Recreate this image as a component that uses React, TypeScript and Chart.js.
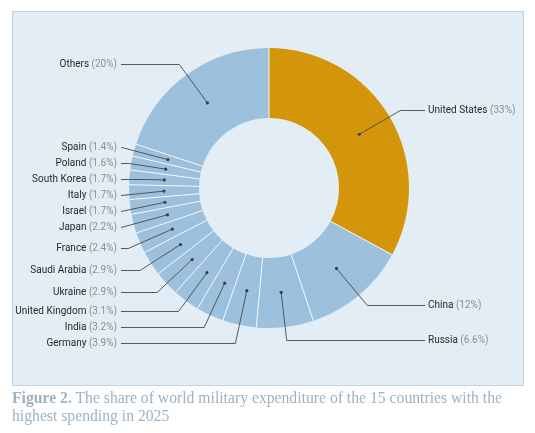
import React, { useEffect, useRef } from "react";
import { Chart, registerables } from "chart.js";

Chart.register(...registerables);

const countries = [
  "United States",
  "China",
  "Russia",
  "Germany",
  "India",
  "United Kingdom",
  "Ukraine",
  "Saudi Arabia",
  "France",
  "Japan",
  "Israel",
  "Italy",
  "South Korea",
  "Poland",
  "Spain",
  "Others",
];
const shares = [33, 12, 6.6, 3.9, 3.2, 3.1, 2.9, 2.9, 2.4, 2.2, 1.7, 1.7, 1.7, 1.6, 1.4, 20];
const highlighted = ["United States"];

const GOLD = "#d3960b";
const BLUE = "#9dc1dd";

const fmt = (v: number) => (Number.isInteger(v) ? `${v}%` : `${v.toFixed(1)}%`);

const labelPlugin = {
  id: "donutLabels",
  afterDatasetsDraw(chart: any) {
    const ctx = chart.ctx as CanvasRenderingContext2D;
    const meta = chart.getDatasetMeta(0);
    const arcs = meta.data as any[];
    if (!arcs.length) return;
    const first = arcs[0].getProps(["x", "y", "innerRadius", "outerRadius"], true);
    const cx = first.x;
    const cy = first.y;
    const ri = first.innerRadius;
    const ro = first.outerRadius;
    ctx.save();

    // separators between slices
    ctx.strokeStyle = "rgba(255,255,255,0.85)";
    ctx.lineWidth = 1;
    arcs.forEach((a) => {
      const p = a.getProps(["startAngle"], true);
      const ang = p.startAngle;
      ctx.beginPath();
      ctx.moveTo(cx + Math.cos(ang) * ri, cy + Math.sin(ang) * ri);
      ctx.lineTo(cx + Math.cos(ang) * ro, cy + Math.sin(ang) * ro);
      ctx.stroke();
    });

    const rDot = (ri + ro) / 2;
    const rLab = ro + 13;
    const GAP = 16;
    const leftTextX = cx - 152;
    const rightTextX = cx + 159;
    const leftLineX = leftTextX + 4;
    const rightLineX = rightTextX - 3;

    const items = arcs.map((a, i) => {
      const p = a.getProps(["startAngle", "endAngle"], true);
      const mid = (p.startAngle + p.endAngle) / 2;
      const dx = Math.cos(mid);
      const dy = Math.sin(mid);
      return {
        i,
        dx,
        dy,
        dotX: cx + dx * rDot,
        dotY: cy + dy * rDot,
        y: cy + dy * rLab,
        right: dx > 0,
      };
    });

    [true, false].forEach((side) => {
      const group = items.filter((it) => it.right === side).sort((a, b) => a.y - b.y);
      for (let k = 1; k < group.length; k++) {
        if (group[k].y < group[k - 1].y + GAP) group[k].y = group[k - 1].y + GAP;
      }
    });

    ctx.font = "10px Roboto";
    ctx.textBaseline = "middle";

    items.forEach((it) => {
      const endX = it.right ? rightLineX : leftLineX;
      let elbowX = endX;
      if (Math.abs(it.dy) > 1e-6) {
        const t = (it.y - cy) / it.dy;
        if (t >= rDot && isFinite(t)) elbowX = cx + it.dx * t;
      }
      if (it.right) elbowX = Math.max(it.dotX, Math.min(elbowX, endX));
      else elbowX = Math.min(it.dotX, Math.max(elbowX, endX));
      const ly = Math.round(it.y) + 0.5;
      ctx.strokeStyle = "#4a4a4a";
      ctx.lineWidth = 0.9;
      ctx.beginPath();
      ctx.moveTo(it.dotX, it.dotY);
      ctx.lineTo(elbowX, ly);
      ctx.lineTo(endX, ly);
      ctx.stroke();

      ctx.fillStyle = "#2c4256";
      ctx.beginPath();
      ctx.arc(it.dotX, it.dotY, 1.6, 0, Math.PI * 2);
      ctx.fill();

      const name = countries[it.i];
      const pct = ` (${fmt(shares[it.i])})`;
      const wName = ctx.measureText(name).width;
      const wPct = ctx.measureText(pct).width;
      const x0 = it.right ? rightTextX : leftTextX - wName - wPct;
      ctx.textAlign = "left";
      ctx.fillStyle = "#2a2a2a";
      ctx.fillText(name, x0, ly);
      ctx.fillStyle = "#8f8f8f";
      ctx.fillText(pct, x0 + wName, ly);
    });

    ctx.restore();
  },
};

export default function App() {
  const ref = useRef<HTMLCanvasElement>(null);
  useEffect(() => {
    const chart = new Chart(ref.current as HTMLCanvasElement, {
      type: "doughnut",
      data: {
        labels: countries,
        datasets: [
          {
            data: shares,
            backgroundColor: countries.map((c) => (highlighted.includes(c) ? GOLD : BLUE)),
            borderWidth: 0,
          },
        ],
      },
      options: {
        responsive: false,
        animation: false,
        cutout: "50%",
        events: [],
        layout: { padding: { left: 129, right: 126, top: 48, bottom: 105 } },
        plugins: { legend: { display: false }, tooltip: { enabled: false } },
      },
      plugins: [labelPlugin],
    } as any);
    return () => chart.destroy();
  }, []);

  return (
    <div
      style={{
        position: "absolute",
        left: 0,
        top: 0,
        width: 535,
        height: 433,
        background: "#ffffff",
        overflow: "hidden",
      }}
    >
      <div
        style={{
          position: "absolute",
          left: 12,
          top: 11,
          width: 510,
          height: 373,
          background: "#e3edf5",
          border: "1px solid #c0d3e1",
        }}
      />
      <canvas
        ref={ref}
        width={535}
        height={433}
        style={{ position: "absolute", left: 0, top: 0, width: 535, height: 433 }}
      />
      <div
        style={{
          position: "absolute",
          left: 12,
          top: 389,
          width: 520,
          fontFamily: "'Liberation Serif', serif",
          fontSize: 15.7,
          lineHeight: "18px",
          color: "#9db2c2",
          whiteSpace: "nowrap",
        }}
      >
        <b>Figure 2.</b> The share of world military expenditure of the 15 countries with the
        <br />
        highest spending in 2025
      </div>
    </div>
  );
}
